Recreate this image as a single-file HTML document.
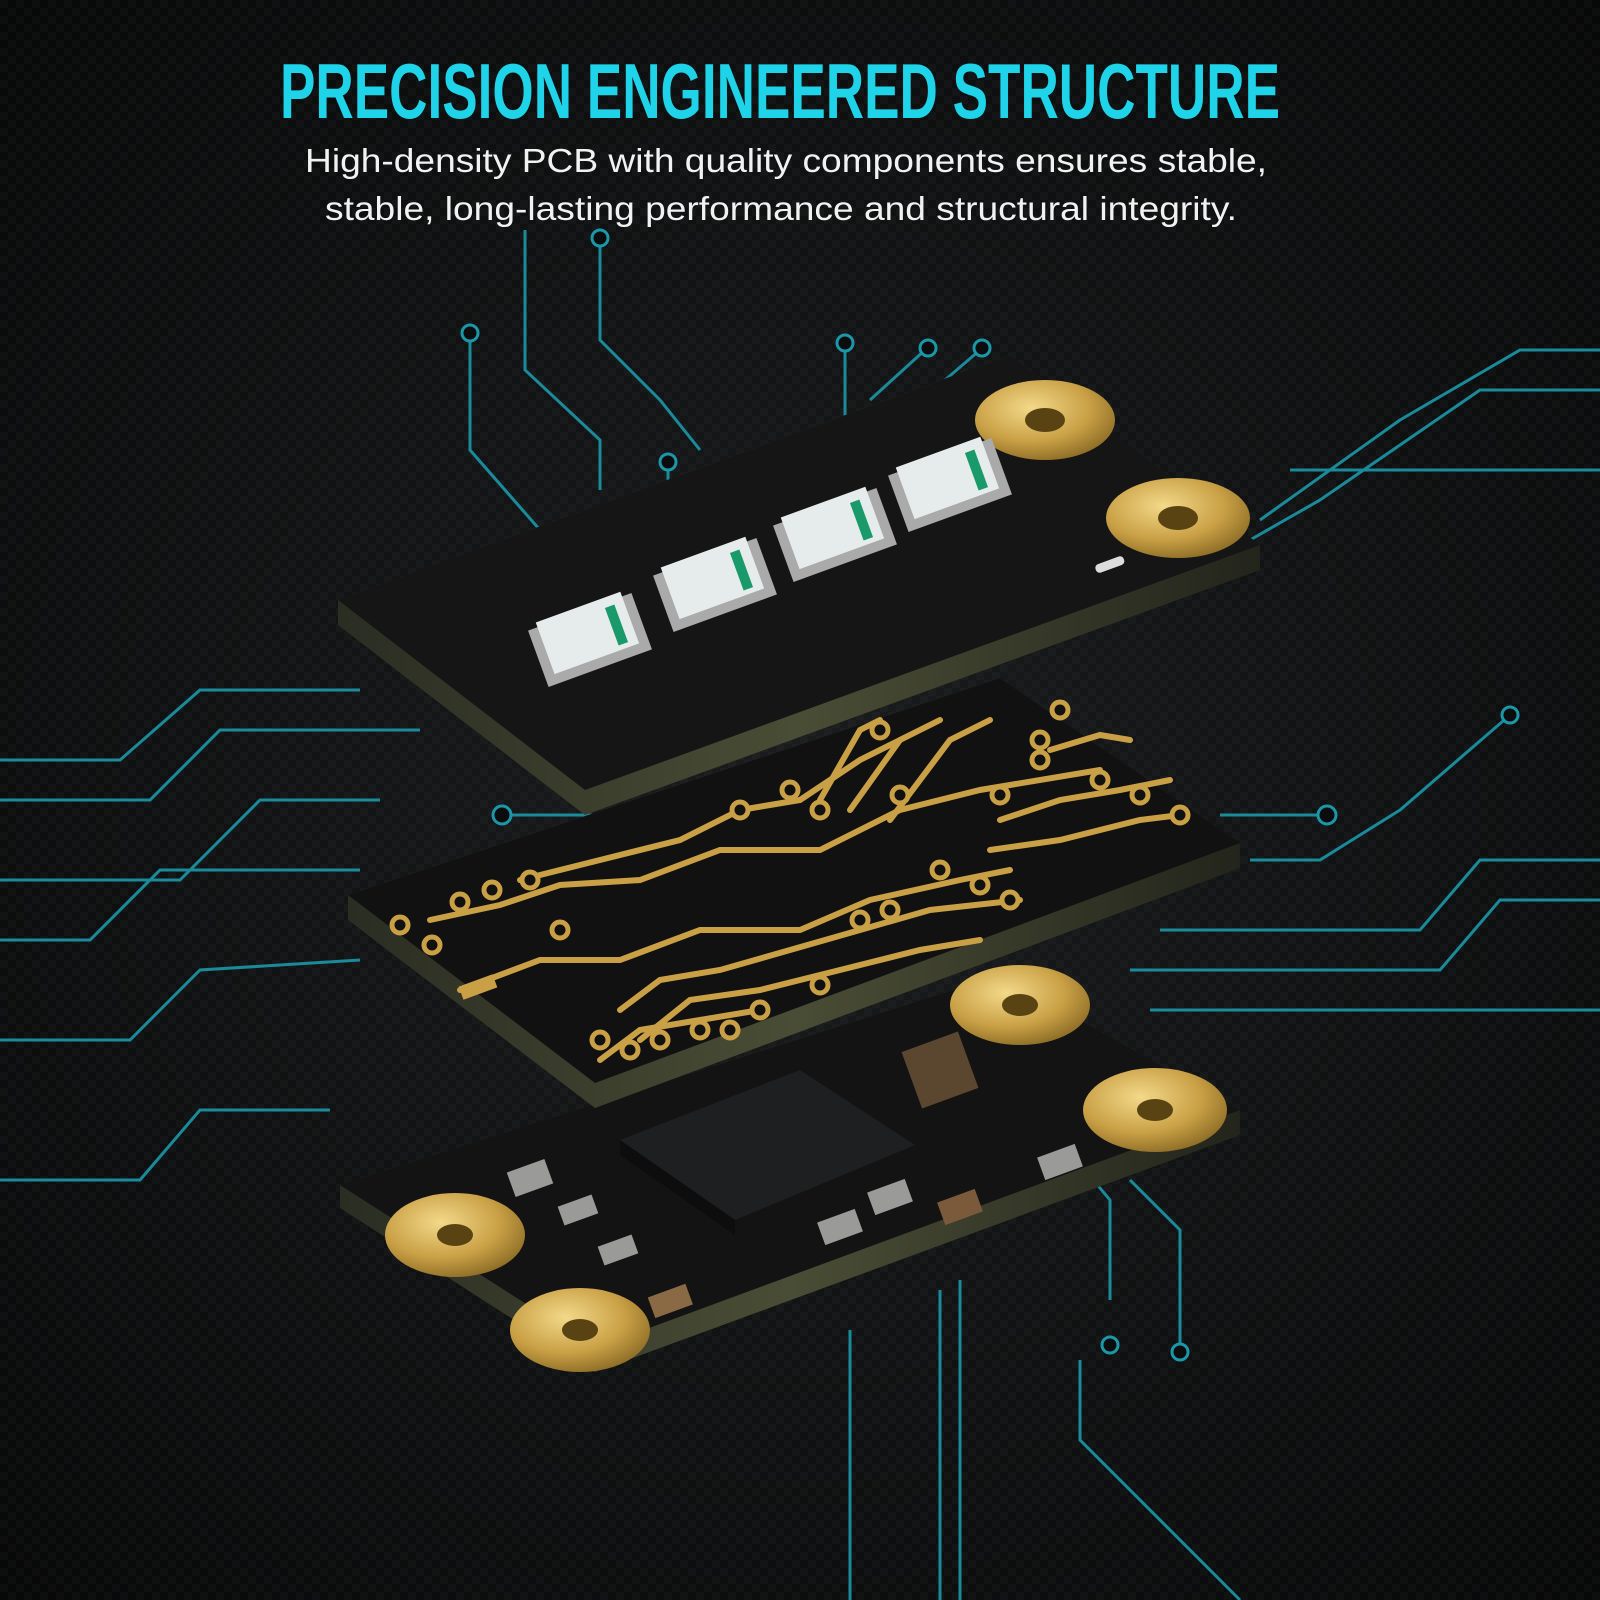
<!DOCTYPE html>
<html><head><meta charset="utf-8"><style>
html,body{margin:0;padding:0;background:#0b0c0d;}
svg{display:block}
</style></head><body>
<svg width="1600" height="1600" viewBox="0 0 1600 1600" xmlns="http://www.w3.org/2000/svg">
<defs>
<radialGradient id="bg" cx="50%" cy="50%" r="70%">
<stop offset="0" stop-color="#1a1c1e"/><stop offset="1" stop-color="#070808"/>
</radialGradient>
<pattern id="cf" width="16" height="16" patternUnits="userSpaceOnUse">
<rect width="16" height="16" fill="none"/>
<rect x="0" y="0" width="8" height="8" fill="#ffffff" opacity="0.025"/>
<rect x="8" y="8" width="8" height="8" fill="#ffffff" opacity="0.025"/>
</pattern>
<radialGradient id="gold" cx="40%" cy="35%" r="70%">
<stop offset="0" stop-color="#f3d98a"/><stop offset="0.6" stop-color="#c9a045"/><stop offset="1" stop-color="#8a6a25"/>
</radialGradient>
<linearGradient id="edge" x1="0" y1="0" x2="1" y2="0">
<stop offset="0" stop-color="#2a2d22"/><stop offset="0.5" stop-color="#4a4d35"/><stop offset="1" stop-color="#23251c"/>
</linearGradient>
</defs>
<rect width="1600" height="1600" fill="url(#bg)"/>
<rect width="1600" height="1600" fill="url(#cf)"/>

<g fill="none" stroke="#1c97a8" stroke-width="3" opacity="0.9">
<polyline points="470,335 470,450 540,530"/>
<polyline points="525,230 525,370 600,440 600,490"/>
<polyline points="600,240 600,340 660,400 700,450"/>
<polyline points="668,470 668,500"/>
<polyline points="845,345 845,420"/>
<polyline points="925,350 870,400"/>
<polyline points="980,350 945,380"/>
<polyline points="1600,350 1520,350 1400,420 1260,520"/>
<polyline points="1600,390 1480,390 1320,500 1250,540"/>
<polyline points="1600,470 1290,470"/>
<polyline points="0,760 120,760 200,690 360,690"/>
<polyline points="0,800 150,800 220,730 420,730"/>
<polyline points="0,880 180,880 260,800 380,800"/>
<polyline points="0,940 90,940 160,870 360,870"/>
<polyline points="510,815 600,815"/>
<polyline points="0,1040 130,1040 200,970 360,960"/>
<polyline points="0,1180 140,1180 200,1110 330,1110"/>
<polyline points="1220,815 1320,815"/>
<polyline points="1510,715 1400,810 1320,860 1250,860"/>
<polyline points="1600,860 1480,860 1420,930 1160,930"/>
<polyline points="1600,900 1500,900 1440,970 1130,970"/>
<polyline points="1600,1010 1150,1010"/>
<polyline points="1110,1300 1110,1200 1060,1140"/>
<polyline points="1180,1350 1180,1230 1130,1180"/>
<polyline points="940,1290 940,1600"/>
<polyline points="960,1280 960,1600"/>
<polyline points="1080,1360 1080,1440 1240,1600"/>
<polyline points="850,1330 850,1600"/>
</g>
<g fill="#0b0c0d" stroke="#1c97a8" stroke-width="3">
<circle cx="470" cy="333" r="8"/><circle cx="600" cy="238" r="8"/><circle cx="668" cy="462" r="8"/>
<circle cx="845" cy="343" r="8"/><circle cx="928" cy="348" r="8"/><circle cx="982" cy="348" r="8"/>
<circle cx="502" cy="815" r="9"/><circle cx="1327" cy="815" r="9"/><circle cx="1510" cy="715" r="8"/>
<circle cx="1110" cy="1345" r="8"/><circle cx="1180" cy="1352" r="8"/>
</g>

<polygon points="340,1185 1000,975 1240,1110 1240,1135 595,1372 340,1208" fill="url(#edge)"/>
<polygon points="340,1185 1000,975 1240,1110 595,1348" fill="#131313"/>
<ellipse cx="455" cy="1235" rx="70" ry="42" fill="url(#gold)"/><ellipse cx="455" cy="1235" rx="18" ry="11" fill="#5a4312"/>
<ellipse cx="580" cy="1330" rx="70" ry="42" fill="url(#gold)"/><ellipse cx="580" cy="1330" rx="18" ry="11" fill="#5a4312"/>
<ellipse cx="1155" cy="1110" rx="72" ry="42" fill="url(#gold)"/><ellipse cx="1155" cy="1110" rx="18" ry="11" fill="#5a4312"/>
<ellipse cx="1020" cy="1005" rx="70" ry="40" fill="url(#gold)"/><ellipse cx="1020" cy="1005" rx="18" ry="11" fill="#5a4312"/>
<polygon points="620,1140 800,1070 915,1145 735,1220" fill="#1e1f20"/>
<polygon points="620,1140 735,1220 735,1235 620,1155" fill="#0d0d0d"/>
<g fill="#9a9a98">
<rect x="510" y="1165" width="40" height="26" transform="rotate(-20 530 1178)"/>
<rect x="650" y="1290" width="40" height="22" fill="#8a6a45" transform="rotate(-20 670 1300)"/>
<rect x="910" y="1040" width="60" height="60" fill="#5b4630" transform="rotate(-20 940 1070)"/>
<rect x="820" y="1215" width="40" height="24" transform="rotate(-20 840 1227)"/>
<rect x="870" y="1185" width="40" height="24" transform="rotate(-20 890 1197)"/>
<rect x="940" y="1195" width="40" height="24" fill="#7a5a3a" transform="rotate(-20 960 1207)"/>
<rect x="1040" y="1150" width="40" height="24" transform="rotate(-20 1060 1162)"/>
<rect x="600" y="1240" width="36" height="20" transform="rotate(-20 618 1250)"/>
<rect x="560" y="1200" width="36" height="20" transform="rotate(-20 578 1210)"/>
</g>

<polygon points="348,895 1000,678 1240,843 1240,868 595,1108 348,920" fill="url(#edge)"/>
<polygon points="348,895 1000,678 1240,843 595,1083" fill="#111111"/>
<g fill="none" stroke="#c9a045" stroke-width="6" stroke-linecap="round">
<polyline points="460,990 540,960 620,960 700,930 800,930 870,900 960,880 1010,870"/>
<polyline points="430,920 500,905 560,885 640,880 720,850 820,850 900,810 980,790 1100,770"/>
<polyline points="520,880 600,860 680,840 740,810 800,800 860,760 900,740"/>
<polyline points="620,1010 660,980 720,970 790,950 860,930 930,910 1020,900"/>
<polyline points="640,1040 690,1000 760,990 840,970 920,950 980,940"/>
<polyline points="600,1060 640,1030 700,1020 760,1010"/>
<polyline points="820,800 860,730 880,720"/>
<polyline points="850,810 900,740 940,720"/>
<polyline points="890,820 950,740 990,720"/>
<polyline points="1000,820 1060,800 1120,790 1170,780"/>
<polyline points="990,850 1060,840 1140,820 1180,815"/>
<polyline points="1050,750 1100,735 1130,740"/>
</g>
<g fill="#111" stroke="#c9a045" stroke-width="5">
<circle cx="400" cy="925" r="8"/><circle cx="432" cy="945" r="8"/><circle cx="460" cy="902" r="8"/>
<circle cx="492" cy="890" r="8"/><circle cx="530" cy="880" r="8"/><circle cx="560" cy="930" r="8"/>
<circle cx="600" cy="1040" r="8"/><circle cx="630" cy="1050" r="8"/><circle cx="660" cy="1040" r="8"/>
<circle cx="700" cy="1030" r="8"/><circle cx="730" cy="1030" r="8"/><circle cx="760" cy="1010" r="8"/>
<circle cx="740" cy="810" r="8"/><circle cx="790" cy="790" r="8"/><circle cx="820" cy="810" r="8"/>
<circle cx="900" cy="795" r="8"/><circle cx="880" cy="730" r="8"/><circle cx="1000" cy="795" r="8"/>
<circle cx="1040" cy="760" r="8"/><circle cx="1100" cy="780" r="8"/><circle cx="1140" cy="795" r="8"/>
<circle cx="1180" cy="815" r="8"/><circle cx="940" cy="870" r="8"/><circle cx="980" cy="885" r="8"/>
<circle cx="1010" cy="900" r="8"/><circle cx="860" cy="920" r="8"/><circle cx="890" cy="910" r="8"/>
<circle cx="820" cy="985" r="8"/><circle cx="1040" cy="740" r="8"/><circle cx="1060" cy="710" r="8"/>
</g>
<rect x="460" y="980" width="36" height="14" fill="#c9a045" transform="rotate(-20 478 987)"/>

<polygon points="338,600 1010,355 1260,545 1260,570 585,815 338,625" fill="url(#edge)"/>
<polygon points="338,600 1010,355 1260,545 585,790" fill="#151515"/>
<ellipse cx="1045" cy="420" rx="70" ry="40" fill="url(#gold)"/><ellipse cx="1045" cy="420" rx="20" ry="12" fill="#5a4312"/>
<ellipse cx="1178" cy="518" rx="72" ry="40" fill="url(#gold)"/><ellipse cx="1178" cy="518" rx="20" ry="12" fill="#5a4312"/>
<rect x="1095" y="560" width="30" height="9" rx="4" fill="#ddd" transform="rotate(-20 1110 565)"/>
<g>
<g transform="translate(590,640) rotate(-20)">
<rect x="-55" y="-30" width="110" height="60" fill="#aaa"/><rect x="-45" y="-35" width="90" height="55" fill="#e6eceb"/><rect x="25" y="-25" width="10" height="40" fill="#1a9a6a"/></g>
<g transform="translate(715,585) rotate(-20)">
<rect x="-55" y="-30" width="110" height="60" fill="#aaa"/><rect x="-45" y="-35" width="90" height="55" fill="#e6eceb"/><rect x="25" y="-25" width="10" height="40" fill="#1a9a6a"/></g>
<g transform="translate(835,535) rotate(-20)">
<rect x="-55" y="-30" width="110" height="60" fill="#aaa"/><rect x="-45" y="-35" width="90" height="55" fill="#e6eceb"/><rect x="25" y="-25" width="10" height="40" fill="#1a9a6a"/></g>
<g transform="translate(950,485) rotate(-20)">
<rect x="-55" y="-30" width="110" height="60" fill="#aaa"/><rect x="-45" y="-35" width="90" height="55" fill="#e6eceb"/><rect x="25" y="-25" width="10" height="40" fill="#1a9a6a"/></g>
</g>

<text x="780" y="118" text-anchor="middle" font-family="'Liberation Sans Narrow','Liberation Sans',sans-serif" font-weight="bold" font-size="78" fill="#1fd3e8" textLength="1000" lengthAdjust="spacingAndGlyphs">PRECISION ENGINEERED STRUCTURE</text>
<text x="786" y="172" text-anchor="middle" font-family="'Liberation Sans',sans-serif" font-size="33" fill="#f2f2f2" textLength="962" lengthAdjust="spacingAndGlyphs">High-density PCB with quality components ensures stable,</text>
<text x="781" y="220" text-anchor="middle" font-family="'Liberation Sans',sans-serif" font-size="33" fill="#f2f2f2" textLength="912" lengthAdjust="spacingAndGlyphs">stable, long-lasting performance and structural integrity.</text>
</svg>
</body></html>
